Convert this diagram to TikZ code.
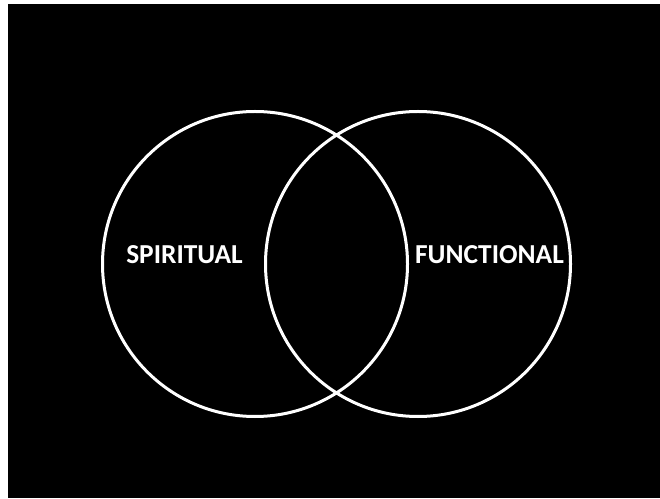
\documentclass[tikz,border=0pt]{standalone}
\usepackage{fontspec}
\setmainfont{Carlito}
\usepackage{xcolor}
\usepackage{tikz}
\usetikzlibrary{positioning}

\begin{document}
\begin{tikzpicture}[
    x=1pt, y=1pt,
    ring/.style={draw=white, line width=3pt, circle, minimum size=305pt, inner sep=0pt},
    word/.style={text=white, font=\bfseries\fontsize{27.4}{32}\selectfont, inner sep=0pt}
]
\useasboundingbox (0,0) rectangle (660,498);
\fill[black] (8,0) rectangle (660,494);
\node[ring] (left) at (255,234) {};
\node[ring] (right) at (418,234) {};
\node[word] (spiritual) at (184.5,243.5) {SPIRITUAL};
\node[word] (functional) at (489.5,243.5) {FUNCTIONAL};
\end{tikzpicture}
\end{document}
